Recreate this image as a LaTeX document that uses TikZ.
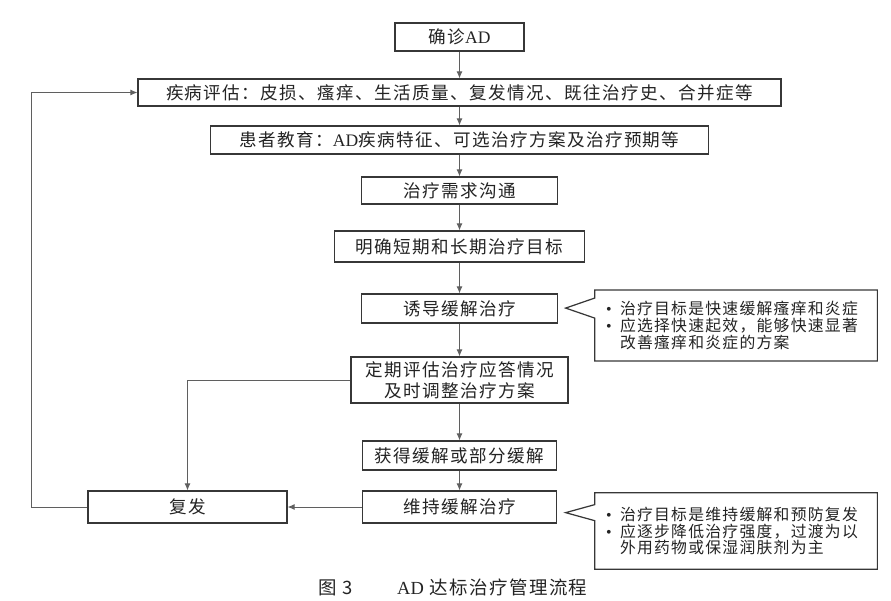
\documentclass[tikz,border=0pt]{standalone}
\usepackage{fontspec}
\setmainfont{Liberation Serif}
\newfontfamily\cjk{Noto Sans CJK SC}[LetterSpace=8]
\usepackage{tikz}
\usetikzlibrary{positioning, shapes, arrows.meta, calc}
\usepackage{xcolor}
\definecolor{box-color}{RGB}{55,55,55}
\definecolor{link-color}{RGB}{95,95,95}
\definecolor{text-color}{RGB}{35,35,35}
\newcommand{\dotmark}{\makebox[0.28cm][l]{\rmfamily\textbullet}}

\begin{document}
\begin{tikzpicture}[
    stage/.style={rectangle, draw=box-color, line width=0.7pt, align=center, inner sep=1pt, text=text-color, font=\cjk\fontsize{10}{12}\selectfont},
    note/.style={rectangle, inner sep=0.22cm, text width=5.2cm, align=left, text=text-color, font=\cjk\fontsize{9}{9.5}\selectfont},
    notebox/.style={draw=box-color, line width=0.7pt},
    arrow/.style={-{Latex[length=1.4mm, width=1.2mm]}, draw=link-color, line width=0.5pt}]

    % Frame
    \useasboundingbox (0,0) rectangle (17.82,-12.02);

    % Main flow
    \node[stage, minimum width=2.58cm, minimum height=0.56cm] (diag) at (9.19,-0.74) {确诊{\rmfamily AD}};
    \node[stage, minimum width=12.86cm, minimum height=0.54cm] (assess) at (9.19,-1.85) {疾病评估：皮损、瘙痒、生活质量、复发情况、既往治疗史、合并症等};
    \node[stage, minimum width=9.96cm, minimum height=0.56cm] (educ) at (9.19,-2.80) {患者教育：{\rmfamily AD}疾病特征、可选治疗方案及治疗预期等};
    \node[stage, minimum width=3.92cm, minimum height=0.54cm] (talk) at (9.19,-3.81) {治疗需求沟通};
    \node[stage, minimum width=5.0cm, minimum height=0.62cm] (goal) at (9.19,-4.93) {明确短期和长期治疗目标};
    \node[stage, minimum width=3.92cm, minimum height=0.58cm] (induce) at (9.19,-6.17) {诱导缓解治疗};
    \node[stage, minimum width=4.34cm, minimum height=0.92cm] (review) at (9.19,-7.60) {定期评估治疗应答情况\\及时调整治疗方案};
    \node[stage, minimum width=3.88cm, minimum height=0.58cm] (remit) at (9.19,-9.11) {获得缓解或部分缓解};
    \node[stage, minimum width=3.88cm, minimum height=0.64cm] (maint) at (9.19,-10.14) {维持缓解治疗};

    % Relapse
    \node[stage, minimum width=3.98cm, minimum height=0.64cm] (relapse) at (3.75,-10.14) {复发};

    % Callouts
    \node[note, minimum height=1.18cm] (aim1) at (14.72,-6.51) {\dotmark 治疗目标是快速缓解瘙痒和炎症\\\dotmark 应选择快速起效，能够快速显著\\\hspace*{0.28cm}改善瘙痒和炎症的方案};
    \node[note, minimum height=1.52cm] (aim2) at (14.72,-10.62) {\dotmark 治疗目标是维持缓解和预防复发\\\dotmark 应逐步降低治疗强度，过渡为以\\\hspace*{0.28cm}外用药物或保湿润肤剂为主};
    \draw[notebox] (aim1.north west) -- (aim1.north east) -- (aim1.south east) -- (aim1.south west) -- ($(aim1.north west)+(0,-0.56)$) -- ($(aim1.north west)+(-0.58,-0.36)$) -- ($(aim1.north west)+(0,-0.16)$) -- cycle;
    \draw[notebox] (aim2.north west) -- (aim2.north east) -- (aim2.south east) -- (aim2.south west) -- ($(aim2.north west)+(0,-0.56)$) -- ($(aim2.north west)+(-0.58,-0.40)$) -- ($(aim2.north west)+(0,-0.24)$) -- cycle;

    % Caption
    \node[font=\cjk\fontsize{10.5}{12}\selectfont, text=text-color] (caption) at (9.06,-11.74) {图 3\hspace{2.4em}{\rmfamily AD} 达标治疗管理流程};

    % Arrows
    \draw[arrow] (diag) -- (assess);
    \draw[arrow] (assess) -- (educ);
    \draw[arrow] (educ) -- (talk);
    \draw[arrow] (talk) -- (goal);
    \draw[arrow] (goal) -- (induce);
    \draw[arrow] (induce) -- (review);
    \draw[arrow] (review) -- (remit);
    \draw[arrow] (remit) -- (maint);
    \draw[arrow] (maint) -- (relapse);
    \draw[arrow] (review.west) -| (relapse.north);
    \draw[arrow] (relapse.west) -- ++(-1.12,0) |- (assess.west);
\end{tikzpicture}
\end{document}
